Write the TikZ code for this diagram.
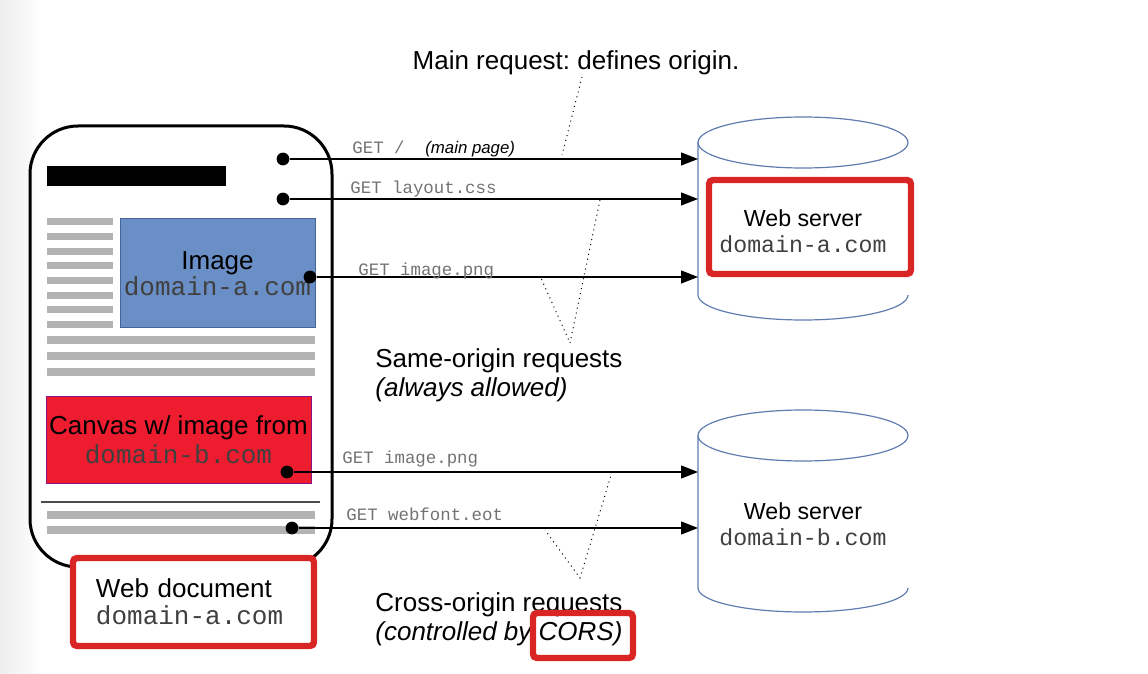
\documentclass[tikz,border=0pt]{standalone}
\usepackage{fontspec}
\setmainfont{Liberation Sans}
\setmonofont{Liberation Mono}
\usetikzlibrary{arrows.meta}
\definecolor{imgblue}{RGB}{106,142,198}
\definecolor{imgborder}{RGB}{70,100,150}
\definecolor{canvasred}{RGB}{237,28,46}
\definecolor{framered}{RGB}{218,37,37}
\definecolor{barGray}{RGB}{179,179,179}
\definecolor{cylblue}{RGB}{95,125,175}
\newcommand\bigtext{\fontsize{13}{14.5}\selectfont}
\newcommand\domtext[1]{\textcolor{black!75}{\texttt{#1}}}
\frenchspacing
\tikzset{
  reqdot/.style={circle,fill=black,inner sep=0pt,minimum size=6.4pt},
  req/.style={-{Triangle[length=8.5pt,width=6.5pt]},line width=0.6pt},
  getlbl/.style={anchor=base west,inner sep=0pt,text=black!55,font=\fontsize{8.7}{10}\ttfamily},
  guide/.style={dotted,line width=0.5pt},
  redframe/.style={draw=framered,line width=3.2pt,rounded corners=2pt},
  cyl/.style={draw=cylblue,line width=0.6pt},
  textbar/.style={fill=barGray},
}
\begin{document}
\begin{tikzpicture}[x=0.5pt,y=-0.5pt]
            \useasboundingbox (0,0) rectangle (1148,674);
            \shade[left color=black!7,right color=white] (0,0) rectangle (42,674);
            % web document
            \node(doc)[draw,line width=1.5pt,rounded corners=24pt,minimum width=151pt,minimum height=220.5pt] at (181,346.5){};
            \fill[black] (47,166) rectangle (226,186);
            \fill[textbar] (47,218) rectangle (113,225);
            \fill[textbar] (47,233) rectangle (113,240);
            \fill[textbar] (47,248) rectangle (113,255);
            \fill[textbar] (47,262) rectangle (113,269);
            \fill[textbar] (47,277) rectangle (113,284);
            \fill[textbar] (47,292) rectangle (113,299);
            \fill[textbar] (47,306) rectangle (113,313);
            \fill[textbar] (47,321) rectangle (113,328);
            \fill[textbar] (47,336) rectangle (315,344);
            \fill[textbar] (47,352) rectangle (315,360);
            \fill[textbar] (47,368) rectangle (315,376);
            \node(img)[draw=imgborder,fill=imgblue,line width=0.5pt,minimum width=97.5pt,minimum height=54.5pt,align=center,inner sep=0pt,font=\fontsize{13}{12.8}\selectfont] at (217.5,273.5){Image\\\domtext{domain-a.com}};
            \node(canvas)[draw=canvasred!60!blue,fill=canvasred,line width=0.5pt,minimum width=132.5pt,minimum height=43.5pt,align=center,inner sep=0.5pt,font=\fontsize{13}{14.5}\selectfont] at (178.5,439.5){Canvas w/ image from\\\domtext{domain-b.com}};
            \draw[black!70,line width=0.8pt] (41,502) -- (320,502);
            \fill[textbar] (47,511) rectangle (315,519);
            \fill[textbar] (47,526) rectangle (315,534);
            \node(docframe)[redframe,fill=white,minimum width=120.5pt,minimum height=44pt,inner sep=0pt,text width=97.5pt,align=left,font=\fontsize{13}{13.5}\selectfont] at (193.5,602){Web document\\\domtext{domain-a.com}};
            % servers
            \draw[cyl] (803,142.5) ellipse [x radius=52.5pt,y radius=12.75pt];
            \draw[cyl] (698,142.5) -- (698,295) arc[start angle=180,end angle=360,x radius=52.5pt,y radius=12.5pt];
            \draw[cyl] (803,435.5) ellipse [x radius=52.5pt,y radius=12.75pt];
            \draw[cyl] (698,435.5) -- (698,588) arc[start angle=180,end angle=360,x radius=52.5pt,y radius=12pt];
            \coordinate(cylA) at (698,218);
            \coordinate(cylB) at (698,510);
            \node(srvAframe)[redframe,minimum width=101pt,minimum height=47pt] at (810,227){};
            \node(srvA)[align=center,inner sep=0pt,font=\fontsize{11.6}{13}\selectfont] at (803,231){Web server\\\domtext{domain-a.com}};
            \node(srvB)[align=center,inner sep=0pt,font=\fontsize{11.6}{13}\selectfont] at (803,524.5){Web server\\\domtext{domain-b.com}};
            % requests
            \node(d1)[reqdot] at (283,159){};
            \node(d2)[reqdot] at (283,199){};
            \node(d3)[reqdot] at (310,277){};
            \node(d4)[reqdot] at (287,472){};
            \node(d5)[reqdot] at (292,528){};
            \draw[req] (d1) -- (d1 -| cylA);
            \draw[req] (d2) -- (d2 -| cylA);
            \draw[req] (d3) -- (d3 -| cylA);
            \draw[req] (d4) -- (d4 -| cylB);
            \draw[req] (d5) -- (d5 -| cylB);
            \node(get1)[getlbl] at (352,154){GET /};
            \node(mainpage)[anchor=base west,inner sep=0pt,font=\fontsize{8.4}{10}\selectfont\itshape] at (425,154){(main page)};
            \node(get2)[getlbl] at (350,194){GET layout.css};
            \node(get3)[getlbl] at (358,276){GET image.png};
            \node(get4)[getlbl] at (342,464){GET image.png};
            \node(get5)[getlbl] at (346,520){GET webfont.eot};
            % notes
            \node(mainreq)[anchor=north,inner sep=0pt,font=\bigtext] at (576,50){Main request: defines origin.};
            \node(same)[anchor=north west,align=left,inner sep=0pt,font=\bigtext] at (375,348){Same-origin requests\\\textit{(always allowed)}};
            \node(cross)[anchor=north west,align=left,inner sep=0pt,font=\bigtext] at (375,592){Cross-origin requests\\\textit{(controlled by CORS)}};
            \node(cors)[redframe,minimum width=50pt,minimum height=22.5pt] at (583,635.5){};
            \coordinate(mr) at (582,77);
            \coordinate(mrend) at (562,155);
            \coordinate(sotip) at (570,343);
            \coordinate(so1) at (600,200);
            \coordinate(so2) at (541,278);
            \coordinate(cotip) at (580,578);
            \coordinate(co1) at (612,472);
            \coordinate(co2) at (545,530);
            \draw[guide] (mr) -- (mrend);
            \draw[guide] (so1) -- (sotip) -- (so2);
            \draw[guide] (co1) -- (cotip) -- (co2);
        \end{tikzpicture}
\end{document}
